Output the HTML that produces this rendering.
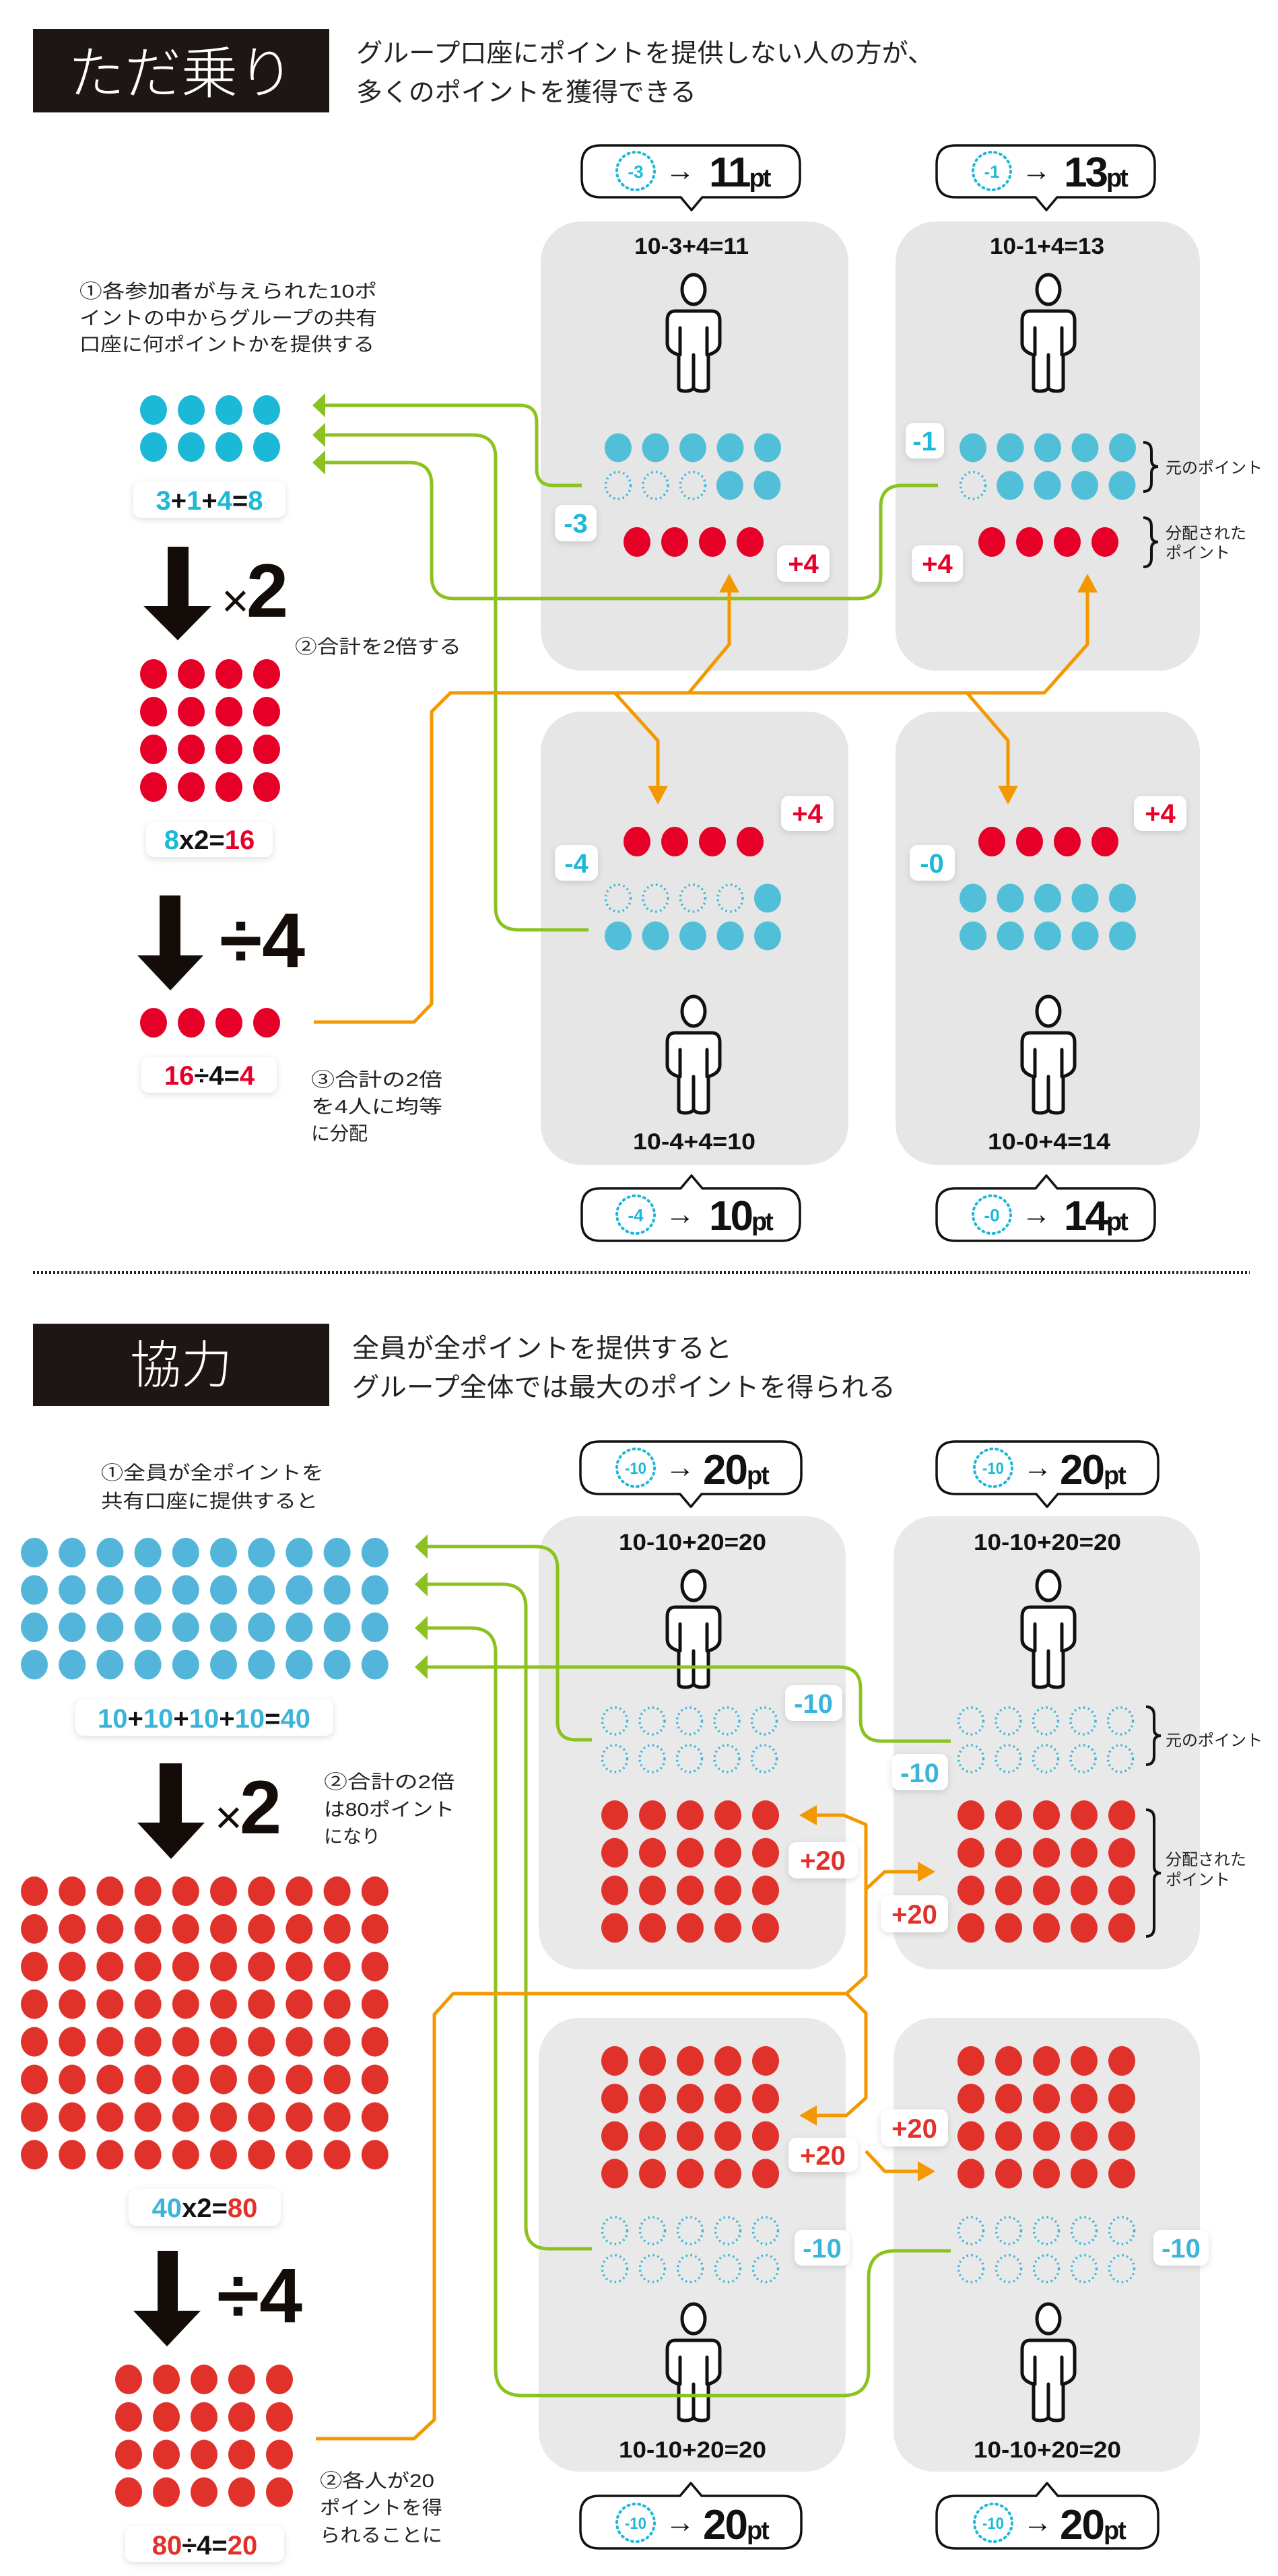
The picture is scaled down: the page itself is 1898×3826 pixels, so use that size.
<!DOCTYPE html>
<html><head><meta charset="utf-8"><style>
html,body{margin:0;padding:0;background:#fff;}
svg{display:block;}
.jp{font-family:"Liberation Sans","Noto Sans CJK JP",sans-serif;}
.num{font-family:"Liberation Sans",sans-serif;font-weight:bold;}
.nar{font-family:"Liberation Sans Narrow","Liberation Sans",sans-serif;font-weight:bold;}
</style></head><body>
<svg width="1898" height="3826" viewBox="0 0 1898 3826" xmlns="http://www.w3.org/2000/svg">
<defs>
<pattern id="pb1" width="56" height="55" patternUnits="userSpaceOnUse"><ellipse cx="28" cy="28" rx="20" ry="22" fill="#1cb8d8"/></pattern>
<pattern id="pbp" width="55.5" height="56" patternUnits="userSpaceOnUse"><ellipse cx="28" cy="28" rx="20" ry="21.5" fill="#52bfd9"/></pattern>
<pattern id="pr1" width="56" height="56" patternUnits="userSpaceOnUse"><ellipse cx="28" cy="28" rx="20" ry="22" fill="#e60027"/></pattern>
<pattern id="pd" width="55.5" height="56" patternUnits="userSpaceOnUse"><ellipse cx="28" cy="28" rx="18.5" ry="20" fill="none" stroke="#3ab8dc" stroke-width="3.5" stroke-dasharray="2.5 4.5"/></pattern>
<pattern id="pb2" width="56.2" height="55.5" patternUnits="userSpaceOnUse"><ellipse cx="28" cy="28" rx="20" ry="22" fill="#52b5d9"/></pattern>
<pattern id="pr2" width="56.2" height="55.9" patternUnits="userSpaceOnUse"><ellipse cx="28" cy="28" rx="20" ry="22" fill="#e0312a"/></pattern>
<pattern id="pr3" width="56" height="55.8" patternUnits="userSpaceOnUse"><ellipse cx="28" cy="28" rx="20" ry="22" fill="#e0312a"/></pattern>
<pattern id="pd2" width="56" height="56.5" patternUnits="userSpaceOnUse"><ellipse cx="28" cy="28" rx="18.5" ry="20" fill="none" stroke="#3ab8dc" stroke-width="3.5" stroke-dasharray="2.5 4.5"/></pattern>
<filter id="sh" x="-30%" y="-30%" width="160%" height="160%"><feDropShadow dx="0" dy="3" stdDeviation="5" flood-color="#000" flood-opacity="0.13"/></filter>
<g id="person" fill="#fff" stroke="#111" stroke-width="5" stroke-linejoin="round" stroke-linecap="round">
<ellipse cx="0" cy="0" rx="17" ry="22"/>
<path d="M -27,32 H 27 Q 39,32 39,46 V 80 Q 39,92 22,97 V 146 Q 22,151 12,151 Q 3,151 0,146 Q -3,151 -12,151 Q -22,151 -22,146 V 97 Q -39,92 -39,80 V 46 Q -39,32 -27,32 Z"/>
<path d="M -20,57 V 97 M 20,57 V 97 M 0,97 V 146" fill="none"/>
</g>
</defs>

<!-- ============ SECTION 1 ============ -->
<rect x="49" y="43" width="440" height="124" fill="#1e1614"/>
<text x="269" y="138" text-anchor="middle" class="jp" font-size="84" fill="#fff" font-weight="300">ただ乗り</text>
<text x="529" y="92" class="jp" font-size="38" fill="#222" textLength="858" lengthAdjust="spacingAndGlyphs">グループ口座にポイントを提供しない人の方が、</text>
<text x="529" y="150" class="jp" font-size="38" fill="#222" textLength="505" lengthAdjust="spacingAndGlyphs">多くのポイントを獲得できる</text>

<rect x="803" y="329" width="457" height="667" rx="60" fill="#e6e6e6"/>
<rect x="1330" y="329" width="452" height="667" rx="60" fill="#e6e6e6"/>
<rect x="803" y="1057" width="457" height="673" rx="60" fill="#e6e6e6"/>
<rect x="1330" y="1057" width="452" height="673" rx="60" fill="#e6e6e6"/>

<g fill="none" stroke="#8cc21f" stroke-width="5">
<path d="M 864,721 H 822 Q 797,721 797,696 V 627 Q 797,602 772,602 H 482"/>
<path d="M 874,1381 H 770 Q 736,1381 736,1347 V 680 Q 736,646 702,646 H 482"/>
<path d="M 1393,721 H 1340 Q 1308,721 1308,753 V 855 Q 1308,889 1274,889 H 675 Q 641,889 641,855 V 720 Q 641,687 608,687 H 482"/>
</g>
<g fill="#8cc21f">
<polygon points="464,602 483,584 483,620"/>
<polygon points="464,646 483,628 483,664"/>
<polygon points="464,687 483,669 483,705"/>
</g>
<g fill="none" stroke="#f39800" stroke-width="5" stroke-linejoin="round">
<path d="M 466,1518 H 615 L 641,1491 V 1057 L 669,1029 H 1551 L 1615,957 V 878"/>
<path d="M 1023,1029 L 1083,957 V 878"/>
<path d="M 913,1029 L 977,1100 V 1170"/>
<path d="M 1436,1029 L 1497,1100 V 1170"/>
</g>
<g fill="#f39800">
<polygon points="1083,852 1068,880 1098,880"/>
<polygon points="1615,852 1600,880 1630,880"/>
<polygon points="977,1195 962,1167 992,1167"/>
<polygon points="1497,1195 1482,1167 1512,1167"/>
</g>

<g fill="#fff" stroke="#111" stroke-width="3.5" stroke-linejoin="round">
<path d="M 892,216 H 1160 Q 1188,216 1188,244 V 265 Q 1188,293 1160,293 H 1043 L 1027,312 L 1011,293 H 892 Q 864,293 864,265 V 244 Q 864,216 892,216 Z"/>
<path d="M 1419,216 H 1687 Q 1715,216 1715,244 V 265 Q 1715,293 1687,293 H 1570 L 1554,312 L 1538,293 H 1419 Q 1391,293 1391,265 V 244 Q 1391,216 1419,216 Z"/>
<path d="M 892,1765 H 1011 L 1027,1746 L 1043,1765 H 1160 Q 1188,1765 1188,1793 V 1815 Q 1188,1843 1160,1843 H 892 Q 864,1843 864,1815 V 1793 Q 864,1765 892,1765 Z"/>
<path d="M 1419,1765 H 1538 L 1554,1746 L 1570,1765 H 1687 Q 1715,1765 1715,1793 V 1815 Q 1715,1843 1687,1843 H 1419 Q 1391,1843 1391,1815 V 1793 Q 1391,1765 1419,1765 Z"/>
</g>
<g fill="none" stroke="#1cb8d8" stroke-width="4" stroke-dasharray="2 6" stroke-linecap="round">
<circle cx="944" cy="254" r="28"/><circle cx="1473" cy="254" r="28"/>
<circle cx="944" cy="1804" r="28"/><circle cx="1473" cy="1804" r="28"/>
</g>
<g class="num" fill="#1cb8d8" font-size="26" text-anchor="middle">
<text x="944" y="264">-3</text><text x="1473" y="264">-1</text>
<text x="944" y="1814">-4</text><text x="1473" y="1814">-0</text>
</g>
<g class="jp" font-size="44" fill="#111">
<text x="988" y="268">→</text><text x="1517" y="268">→</text>
<text x="988" y="1818">→</text><text x="1517" y="1818">→</text>
</g>
<g class="num" fill="#111">
<text x="1053" y="277" font-size="62" letter-spacing="-3">11<tspan font-size="38">pt</tspan></text>
<text x="1580" y="277" font-size="62" letter-spacing="-3">13<tspan font-size="38">pt</tspan></text>
<text x="1053" y="1827" font-size="62" letter-spacing="-3">10<tspan font-size="38">pt</tspan></text>
<text x="1580" y="1827" font-size="62" letter-spacing="-3">14<tspan font-size="38">pt</tspan></text>
</g>

<g class="num" font-size="34" fill="#111">
<text x="942" y="377" textLength="170" lengthAdjust="spacingAndGlyphs">10-3+4=11</text>
<text x="1470" y="377" textLength="170" lengthAdjust="spacingAndGlyphs">10-1+4=13</text>
<text x="940" y="1707" textLength="182" lengthAdjust="spacingAndGlyphs">10-4+4=10</text>
<text x="1467" y="1707" textLength="182" lengthAdjust="spacingAndGlyphs">10-0+4=14</text>
</g>
<use href="#person" x="1030" y="430"/>
<use href="#person" x="1557" y="430"/>
<use href="#person" x="1030" y="1502"/>
<use href="#person" x="1557" y="1502"/>

<rect transform="translate(200,581)" width="224" height="110" fill="url(#pb1)"/>
<rect transform="translate(200,973)" width="224" height="224" fill="url(#pr1)"/>
<rect transform="translate(200,1491)" width="224" height="56" fill="url(#pr1)"/>
<rect transform="translate(890,637)" width="278" height="56" fill="url(#pbp)"/>
<rect transform="translate(890,693)" width="166" height="56" fill="url(#pd)"/>
<rect transform="translate(1056,693)" width="112" height="56" fill="url(#pbp)"/>
<rect transform="translate(918,777)" width="224" height="56" fill="url(#pr1)"/>
<rect transform="translate(1417,637)" width="278" height="56" fill="url(#pbp)"/>
<rect transform="translate(1417,693)" width="55" height="56" fill="url(#pd)"/>
<rect transform="translate(1472,693)" width="223" height="56" fill="url(#pbp)"/>
<rect transform="translate(1445,777)" width="224" height="56" fill="url(#pr1)"/>
<rect transform="translate(918,1222)" width="224" height="56" fill="url(#pr1)"/>
<rect transform="translate(890,1306)" width="222" height="56" fill="url(#pd)"/>
<rect transform="translate(1112,1306)" width="56" height="56" fill="url(#pbp)"/>
<rect transform="translate(890,1362)" width="278" height="56" fill="url(#pbp)"/>
<rect transform="translate(1445,1222)" width="224" height="56" fill="url(#pr1)"/>
<rect transform="translate(1417,1306)" width="278" height="112" fill="url(#pbp)"/>

<g fill="none" stroke="#111" stroke-width="4">
<path d="M 1698,657 Q 1710,657 1710,670 V 683 Q 1710,693 1720,693 Q 1710,693 1710,703 V 717 Q 1710,730 1698,730"/>
<path d="M 1698,769 Q 1710,769 1710,782 V 795 Q 1710,805 1720,805 Q 1710,805 1710,815 V 829 Q 1710,842 1698,842"/>
</g>
<g class="jp" font-size="24" fill="#222">
<text x="1731" y="703">元のポイント</text>
<text x="1731" y="800">分配された</text>
<text x="1731" y="829">ポイント</text>
</g>

<g fill="#fff" filter="url(#sh)">
<rect x="824" y="750" width="62" height="54" rx="12"/>
<rect x="1154" y="810" width="78" height="54" rx="12"/>
<rect x="1345" y="628" width="57" height="53" rx="12"/>
<rect x="1354" y="810" width="76" height="54" rx="12"/>
<rect x="1160" y="1182" width="78" height="52" rx="12"/>
<rect x="824" y="1255" width="64" height="53" rx="12"/>
<rect x="1684" y="1182" width="78" height="52" rx="12"/>
<rect x="1351" y="1255" width="67" height="53" rx="12"/>
<rect x="198" y="716" width="226" height="53" rx="12"/>
<rect x="217" y="1221" width="188" height="52" rx="12"/>
<rect x="210" y="1570" width="201" height="53" rx="12"/>
</g>
<g class="nar" font-size="40" text-anchor="middle">
<text x="855" y="791" fill="#1cb8d8">-3</text>
<text x="1193" y="851" fill="#e60027">+4</text>
<text x="1373" y="669" fill="#1cb8d8">-1</text>
<text x="1392" y="851" fill="#e60027">+4</text>
<text x="1199" y="1222" fill="#e60027">+4</text>
<text x="856" y="1296" fill="#1cb8d8">-4</text>
<text x="1723" y="1222" fill="#e60027">+4</text>
<text x="1384" y="1296" fill="#1cb8d8">-0</text>
<text x="311" y="757" fill="#1cb8d8">3<tspan fill="#111">+</tspan>1<tspan fill="#111">+</tspan>4<tspan fill="#111">=</tspan>8</text>
<text x="311" y="1261"><tspan fill="#1cb8d8">8</tspan><tspan fill="#111">x2=</tspan><tspan fill="#e60027">16</tspan></text>
<text x="311" y="1611"><tspan fill="#e60027">16</tspan><tspan fill="#111">÷4=</tspan><tspan fill="#e60027">4</tspan></text>
</g>

<polygon points="249,812 280,812 280,900 314,900 264,951 213,900 249,900" fill="#140c08"/>
<text x="329" y="916" class="jp" font-size="70" fill="#140c08">×<tspan class="num" font-size="112" dx="-4">2</tspan></text>
<polygon points="237,1330 268,1330 268,1419 302,1419 253,1471 204,1419 237,1419" fill="#140c08"/>
<text x="326" y="1436" class="num" font-size="115" fill="#140c08">÷4</text>

<g class="jp" font-size="28" fill="#222">
<text x="118" y="442" textLength="442" lengthAdjust="spacingAndGlyphs">①各参加者が与えられた10ポ</text>
<text x="118" y="482" textLength="442" lengthAdjust="spacingAndGlyphs">イントの中からグループの共有</text>
<text x="118" y="521" textLength="438" lengthAdjust="spacingAndGlyphs">口座に何ポイントかを提供する</text>
<text x="438" y="970" textLength="247" lengthAdjust="spacingAndGlyphs">②合計を2倍する</text>
<text x="462" y="1613" textLength="195" lengthAdjust="spacingAndGlyphs">③合計の2倍</text>
<text x="462" y="1653" textLength="195" lengthAdjust="spacingAndGlyphs">を4人に均等</text>
<text x="462" y="1693">に分配</text>
</g>

<line x1="49" y1="1890" x2="1856" y2="1890" stroke="#222" stroke-width="4" stroke-dasharray="3 3"/>

<!-- ============ SECTION 2 ============ -->
<rect x="49" y="1966" width="440" height="122" fill="#1e1614"/>
<text x="269" y="2054" text-anchor="middle" class="jp" font-size="76" fill="#fff" font-weight="300">協力</text>
<text x="523" y="2016" class="jp" font-size="39" fill="#222" textLength="564" lengthAdjust="spacingAndGlyphs">全員が全ポイントを提供すると</text>
<text x="523" y="2074" class="jp" font-size="39" fill="#222" textLength="807" lengthAdjust="spacingAndGlyphs">グループ全体では最大のポイントを得られる</text>

<rect x="800" y="2252" width="456" height="673" rx="60" fill="#e9e9e9"/>
<rect x="1327" y="2252" width="455" height="673" rx="60" fill="#e9e9e9"/>
<rect x="800" y="2997" width="456" height="674" rx="60" fill="#e9e9e9"/>
<rect x="1327" y="2997" width="455" height="674" rx="60" fill="#e9e9e9"/>

<g class="num" font-size="34" fill="#111">
<text x="919" y="2302" textLength="219" lengthAdjust="spacingAndGlyphs">10-10+20=20</text>
<text x="1446" y="2302" textLength="219" lengthAdjust="spacingAndGlyphs">10-10+20=20</text>
<text x="919" y="3650" textLength="219" lengthAdjust="spacingAndGlyphs">10-10+20=20</text>
<text x="1446" y="3650" textLength="219" lengthAdjust="spacingAndGlyphs">10-10+20=20</text>
</g>
<use href="#person" x="1030" y="2355"/>
<use href="#person" x="1557" y="2355"/>
<use href="#person" x="1030" y="3444"/>
<use href="#person" x="1557" y="3444"/>

<rect transform="translate(23,2278)" width="562" height="222" fill="url(#pb2)"/>
<rect transform="translate(23,2781)" width="562" height="447" fill="url(#pr2)"/>
<rect transform="translate(163,3506)" width="280" height="223" fill="url(#pr3)"/>
<rect transform="translate(885,2528)" width="280" height="112" fill="url(#pd)"/>
<rect transform="translate(885,2668)" width="280" height="223" fill="url(#pr3)"/>
<rect transform="translate(1414,2528)" width="280" height="112" fill="url(#pd)"/>
<rect transform="translate(1414,2668)" width="280" height="223" fill="url(#pr3)"/>
<rect transform="translate(885,3033)" width="280" height="223" fill="url(#pr3)"/>
<rect transform="translate(885,3285)" width="280" height="113" fill="url(#pd2)"/>
<rect transform="translate(1414,3033)" width="280" height="223" fill="url(#pr3)"/>
<rect transform="translate(1414,3285)" width="280" height="113" fill="url(#pd2)"/>

<g fill="none" stroke="#8cc21f" stroke-width="5">
<path d="M 879,2584 H 855 Q 828,2584 828,2557 V 2330 Q 828,2297 795,2297 H 634"/>
<path d="M 879,3340 H 815 Q 781,3340 781,3306 V 2388 Q 781,2353 746,2353 H 634"/>
<path d="M 1412,3343 H 1330 Q 1290,3343 1290,3383 V 3520 Q 1290,3558 1252,3558 H 776 Q 736,3558 736,3518 V 2455 Q 736,2418 699,2418 H 634"/>
<path d="M 1412,2586 H 1310 Q 1278,2586 1278,2554 V 2508 Q 1278,2476 1246,2476 H 634"/>
</g>
<g fill="#8cc21f">
<polygon points="616,2297 635,2279 635,2315"/>
<polygon points="616,2353 635,2335 635,2371"/>
<polygon points="616,2418 635,2400 635,2436"/>
<polygon points="616,2476 635,2458 635,2494"/>
</g>
<g fill="none" stroke="#f39800" stroke-width="5" stroke-linejoin="round">
<path d="M 469,3622 H 615 L 645,3594 V 2992 L 673,2961 H 1257 L 1286,2935 V 2710 L 1253,2696 H 1210"/>
<path d="M 1286,2806 L 1314,2780 H 1365"/>
<path d="M 1257,2961 L 1286,2990 V 3116 L 1257,3142 H 1210"/>
<path d="M 1286,3195 L 1314,3225 H 1365"/>
</g>
<g fill="#f39800">
<polygon points="1187,2696 1213,2681 1213,2711"/>
<polygon points="1187,3142 1213,3127 1213,3157"/>
<polygon points="1389,2780 1363,2765 1363,2795"/>
<polygon points="1389,3225 1363,3210 1363,3240"/>
</g>

<g fill="#fff" stroke="#111" stroke-width="3.5" stroke-linejoin="round">
<path d="M 890,2141 H 1162 Q 1190,2141 1190,2169 V 2191 Q 1190,2219 1162,2219 H 1042 L 1026,2238 L 1010,2219 H 890 Q 862,2219 862,2191 V 2169 Q 862,2141 890,2141 Z"/>
<path d="M 1419,2141 H 1692 Q 1720,2141 1720,2169 V 2191 Q 1720,2219 1692,2219 H 1571 L 1555,2238 L 1539,2219 H 1419 Q 1391,2219 1391,2191 V 2169 Q 1391,2141 1419,2141 Z"/>
<path d="M 890,3707 H 1010 L 1026,3688 L 1042,3707 H 1162 Q 1190,3707 1190,3735 V 3757 Q 1190,3785 1162,3785 H 890 Q 862,3785 862,3757 V 3735 Q 862,3707 890,3707 Z"/>
<path d="M 1419,3707 H 1539 L 1555,3688 L 1571,3707 H 1692 Q 1720,3707 1720,3735 V 3757 Q 1720,3785 1692,3785 H 1419 Q 1391,3785 1391,3757 V 3735 Q 1391,3707 1419,3707 Z"/>
</g>
<g fill="none" stroke="#1cb8d8" stroke-width="4" stroke-dasharray="2 6" stroke-linecap="round">
<circle cx="944" cy="2180" r="28"/><circle cx="1475" cy="2180" r="28"/>
<circle cx="944" cy="3747" r="28"/><circle cx="1475" cy="3747" r="28"/>
</g>
<g class="num" fill="#1cb8d8" font-size="24" text-anchor="middle">
<text x="944" y="2189" textLength="32" lengthAdjust="spacingAndGlyphs">-10</text><text x="1475" y="2189" textLength="32" lengthAdjust="spacingAndGlyphs">-10</text>
<text x="944" y="3756" textLength="32" lengthAdjust="spacingAndGlyphs">-10</text><text x="1475" y="3756" textLength="32" lengthAdjust="spacingAndGlyphs">-10</text>
</g>
<g class="jp" font-size="44" fill="#111">
<text x="988" y="2194">→</text><text x="1519" y="2194">→</text>
<text x="988" y="3761">→</text><text x="1519" y="3761">→</text>
</g>
<g class="num" fill="#111">
<text x="1044" y="2204" font-size="62" letter-spacing="-2">20<tspan font-size="38">pt</tspan></text>
<text x="1574" y="2204" font-size="62" letter-spacing="-2">20<tspan font-size="38">pt</tspan></text>
<text x="1044" y="3771" font-size="62" letter-spacing="-2">20<tspan font-size="38">pt</tspan></text>
<text x="1574" y="3771" font-size="62" letter-spacing="-2">20<tspan font-size="38">pt</tspan></text>
</g>

<g fill="none" stroke="#111" stroke-width="4">
<path d="M 1702,2535 Q 1714,2535 1714,2548 V 2568 Q 1714,2578 1724,2578 Q 1714,2578 1714,2588 V 2608 Q 1714,2621 1702,2621"/>
<path d="M 1702,2688 Q 1714,2688 1714,2701 V 2772 Q 1714,2782 1724,2782 Q 1714,2782 1714,2792 V 2863 Q 1714,2876 1702,2876"/>
</g>
<g class="jp" font-size="24" fill="#222">
<text x="1731" y="2593">元のポイント</text>
<text x="1731" y="2770">分配された</text>
<text x="1731" y="2800">ポイント</text>
</g>

<g fill="#fff" filter="url(#sh)">
<rect x="1166" y="2503" width="85" height="53" rx="12"/>
<rect x="1324" y="2605" width="84" height="54" rx="12"/>
<rect x="1171" y="2736" width="103" height="54" rx="12"/>
<rect x="1308" y="2815" width="100" height="55" rx="12"/>
<rect x="1180" y="3312" width="82" height="53" rx="12"/>
<rect x="1713" y="3312" width="82" height="53" rx="12"/>
<rect x="1171" y="3175" width="103" height="51" rx="12"/>
<rect x="1308" y="3133" width="100" height="55" rx="12"/>
<rect x="112" y="2524" width="383" height="54" rx="12"/>
<rect x="191" y="3251" width="226" height="55" rx="12"/>
<rect x="186" y="3752" width="236" height="53" rx="12"/>
</g>
<g class="nar" font-size="40" text-anchor="middle">
<text x="1208" y="2544" fill="#3ab5d9">-10</text>
<text x="1366" y="2647" fill="#3ab5d9">-10</text>
<text x="1222" y="2777" fill="#e0312a">+20</text>
<text x="1358" y="2857" fill="#e0312a">+20</text>
<text x="1221" y="3353" fill="#3ab5d9">-10</text>
<text x="1754" y="3353" fill="#3ab5d9">-10</text>
<text x="1222" y="3215" fill="#e0312a">+20</text>
<text x="1358" y="3175" fill="#e0312a">+20</text>
<text x="303" y="2566" fill="#3ab5d9">10<tspan fill="#111">+</tspan>10<tspan fill="#111">+</tspan>10<tspan fill="#111">+</tspan>10<tspan fill="#111">=</tspan>40</text>
<text x="304" y="3293"><tspan fill="#3ab5d9">40</tspan><tspan fill="#111">x2=</tspan><tspan fill="#e0312a">80</tspan></text>
<text x="304" y="3794"><tspan fill="#e0312a">80</tspan><tspan fill="#111">÷4=</tspan><tspan fill="#e0312a">20</tspan></text>
</g>

<polygon points="237,2619 270,2619 270,2707 304,2707 254,2761 204,2707 237,2707" fill="#140c08"/>
<text x="319" y="2723" class="jp" font-size="70" fill="#140c08">×<tspan class="num" font-size="112" dx="-4">2</tspan></text>
<polygon points="234,3343 264,3343 264,3432 298,3432 248,3485 198,3432 234,3432" fill="#140c08"/>
<text x="322" y="3449" class="num" font-size="115" fill="#140c08">÷4</text>

<g class="jp" font-size="28" fill="#222">
<text x="150" y="2197" textLength="331" lengthAdjust="spacingAndGlyphs">①全員が全ポイントを</text>
<text x="150" y="2239" textLength="322" lengthAdjust="spacingAndGlyphs">共有口座に提供すると</text>
<text x="481" y="2656" textLength="194" lengthAdjust="spacingAndGlyphs">②合計の2倍</text>
<text x="481" y="2697" textLength="194" lengthAdjust="spacingAndGlyphs">は80ポイント</text>
<text x="481" y="2737">になり</text>
<text x="475" y="3694" textLength="170" lengthAdjust="spacingAndGlyphs">②各人が20</text>
<text x="475" y="3734" textLength="182" lengthAdjust="spacingAndGlyphs">ポイントを得</text>
<text x="475" y="3775" textLength="182" lengthAdjust="spacingAndGlyphs">られることに</text>
</g>
</svg>
</body></html>
